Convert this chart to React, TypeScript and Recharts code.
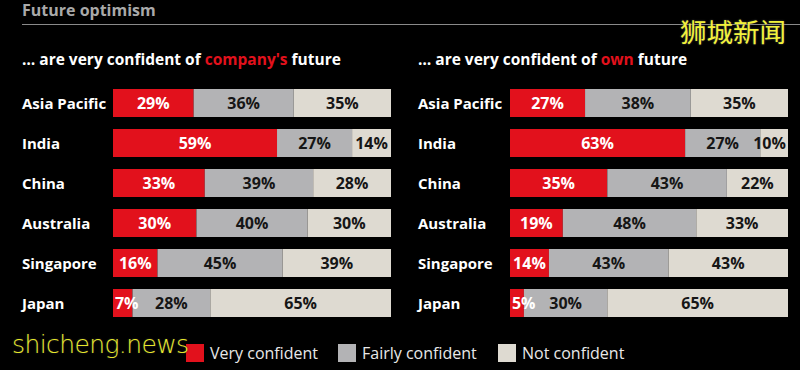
import React from "react";
import { BarChart, Bar, XAxis, YAxis, LabelList } from "recharts";

const categories = ["Asia Pacific", "India", "China", "Australia", "Singapore", "Japan"];

const companyVery = [29, 59, 33, 30, 16, 7];
const companyFairly = [36, 27, 39, 40, 45, 28];
const companyNot = [35, 14, 28, 30, 39, 65];

const ownVery = [27, 63, 35, 19, 14, 5];
const ownFairly = [38, 27, 43, 48, 43, 30];
const ownNot = [35, 10, 22, 33, 43, 65];

const seriesNames = ["Very confident", "Fairly confident", "Not confident"];
const seriesKeys = ["very", "fairly", "not"];
const seriesColors = ["#e2111c", "#b3b3b5", "#dedad1"];
const labelColors = ["#ffffff", "#161616", "#161616"];

const FONT = "'Open Sans', 'DejaVu Sans', sans-serif";

function buildRows(very: number[], fairly: number[], not: number[]) {
  return categories.map((c, i) => ({
    name: c,
    very: very[i],
    fairly: fairly[i],
    not: not[i],
  }));
}

function SegmentLabel(props: any) {
  const { x, y, width, height, value, fill, last } = props;
  // rough text width so labels in tiny segments stay inside the bar
  const textW = String(value).length * 9.5 + 14;
  let cx = x + width / 2;
  if (last) cx = Math.min(cx, x + width - textW / 2 - 2);
  else cx = Math.max(cx, x + textW / 2 + 2);
  return (
    <text
      x={cx}
      y={y + height / 2}
      dy={5.5}
      textAnchor="middle"
      fill={fill}
      fontFamily={FONT}
      fontWeight={700}
      fontSize={16}
    >
      {value}%
    </text>
  );
}

function Panel({
  data,
  labelX,
  axisWidth,
  rightMargin,
}: {
  data: any[];
  labelX: number;
  axisWidth: number;
  rightMargin: number;
}) {
  return (
    <BarChart
      width={400}
      height={240}
      data={data}
      layout="vertical"
      margin={{ top: 0, right: rightMargin, bottom: 0, left: 0 }}
      barSize={28}
    >
      <XAxis type="number" domain={[0, 100]} hide />
      <YAxis
        type="category"
        dataKey="name"
        width={axisWidth}
        axisLine={false}
        tickLine={false}
        tick={(p: any) => (
          <text
            x={labelX}
            y={p.y}
            dy={5.5}
            textAnchor="start"
            fill="#ffffff"
            fontFamily={FONT}
            fontWeight={700}
            fontSize={15}
          >
            {p.payload.value}
          </text>
        )}
      />
      {seriesKeys.map((k, i) => (
        <Bar
          key={k}
          dataKey={k}
          stackId="a"
          fill={seriesColors[i]}
          isAnimationActive={false}
        >
          <LabelList
            dataKey={k}
            content={(p: any) => (
              <SegmentLabel {...p} fill={labelColors[i]} last={i === seriesKeys.length - 1} />
            )}
          />
        </Bar>
      ))}
    </BarChart>
  );
}

export default function App() {
  const companyRows = buildRows(companyVery, companyFairly, companyNot);
  const ownRows = buildRows(ownVery, ownFairly, ownNot);

  const subStyle: React.CSSProperties = {
    position: "absolute",
    top: 48,
    fontFamily: FONT,
    fontWeight: 700,
    fontSize: 15.5,
    color: "#ffffff",
    whiteSpace: "nowrap",
  };

  const legendX = [186, 338, 498];

  return (
    <div
      style={{
        position: "absolute",
        left: 0,
        top: 0,
        width: 800,
        height: 370,
        background: "#000000",
        overflow: "hidden",
        fontFamily: FONT,
      }}
    >
      <div
        style={{
          position: "absolute",
          left: 22,
          top: -1,
          fontWeight: 700,
          fontSize: 16,
          color: "#a9a9a9",
        }}
      >
        Future optimism
      </div>
      <div
        style={{
          position: "absolute",
          left: 22,
          top: 24,
          width: 778,
          height: 1,
          background: "#8a8a8a",
        }}
      />

      <div style={{ ...subStyle, left: 22 }}>
        … are very confident of <span style={{ color: "#e2111c" }}>company's</span> future
      </div>
      <div style={{ ...subStyle, left: 418 }}>
        … are very confident of <span style={{ color: "#e2111c" }}>own</span> future
      </div>

      <div style={{ position: "absolute", left: 0, top: 83 }}>
        <Panel data={companyRows} labelX={22} axisWidth={113} rightMargin={9} />
      </div>
      <div style={{ position: "absolute", left: 400, top: 83 }}>
        <Panel data={ownRows} labelX={18} axisWidth={110} rightMargin={12} />
      </div>

      {seriesNames.map((n, i) => (
        <div
          key={n}
          style={{
            position: "absolute",
            left: legendX[i],
            top: 343,
            display: "flex",
            alignItems: "center",
            whiteSpace: "nowrap",
          }}
        >
          <div
            style={{
              width: 18,
              height: 18,
              background: seriesColors[i],
              marginRight: 6,
            }}
          />
          <span style={{ color: "#e8e8e8", fontSize: 16, lineHeight: "20px" }}>{n}</span>
        </div>
      ))}

      <div
        style={{
          position: "absolute",
          left: 12,
          top: 330,
          fontSize: 25,
          fontWeight: 200,
          color: "#e6e72c",
          letterSpacing: -0.6,
          textShadow: "0 0 2px #333",
          fontFamily: "'DejaVu Sans', sans-serif",
        }}
      >
        shicheng.news
      </div>
      <div
        style={{
          position: "absolute",
          left: 680,
          top: 11,
          fontSize: 26.5,
          color: "#f2f23a",
          fontFamily: "'Noto Sans CJK SC', sans-serif",
          textShadow: "0 0 2px #555",
        }}
      >
        狮城新闻
      </div>
    </div>
  );
}
